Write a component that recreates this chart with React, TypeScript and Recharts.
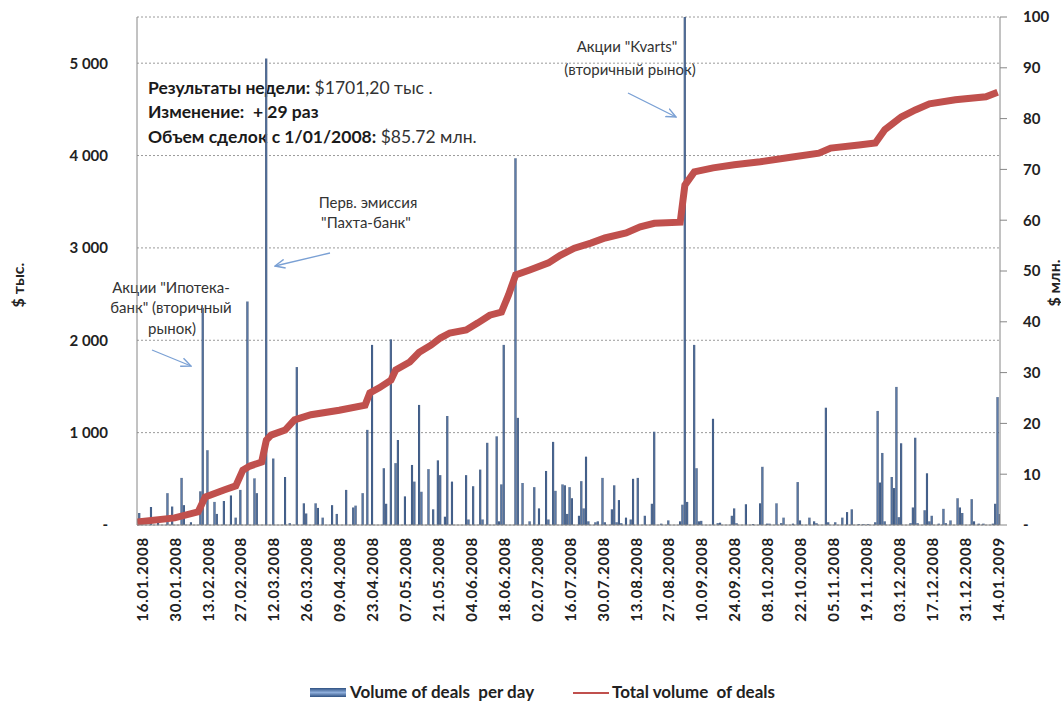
import React from "react";
import { ComposedChart, Bar, Line, XAxis, YAxis, CartesianGrid, Legend } from "recharts";

const FONT = "Lato, 'Noto Sans', sans-serif";

// x axis: days counted from 16.01.2008
const dateLabels = [
  "16.01.2008", "30.01.2008", "13.02.2008", "27.02.2008", "12.03.2008", "26.03.2008",
  "09.04.2008", "23.04.2008", "07.05.2008", "21.05.2008", "04.06.2008", "18.06.2008",
  "02.07.2008", "16.07.2008", "30.07.2008", "13.08.2008", "27.08.2008", "10.09.2008",
  "24.09.2008", "08.10.2008", "22.10.2008", "05.11.2008", "19.11.2008", "03.12.2008",
  "17.12.2008", "31.12.2008", "14.01.2009",
];
const tickDays = dateLabels.map((_, i) => i * 14);

// volume of deals per day, $ thousand
const dealDays = [
  -1, 4, 7, 11, 13, 17, 18, 21, 25, 26, 28, 31, 32, 35, 38, 40, 42, 45, 48, 49,
  53, 56, 61, 63, 66, 69, 70, 74, 75, 77, 81, 83, 87, 90, 91, 94, 96, 98, 103, 104,
  106, 108, 109, 112, 115, 116, 118, 119, 122, 124, 126, 127, 129, 130, 132, 138, 139, 141, 144, 145,
  147, 151, 152, 153, 154, 159, 160, 162, 165, 167, 169, 172, 173, 175, 176, 179, 180, 181, 182, 183,
  186, 187, 188, 189, 190, 193, 194, 196, 197, 200, 201, 202, 203, 204, 206, 208, 209, 211, 214, 217,
  218, 221, 224, 229, 230, 231, 232, 235, 236, 237, 238, 243, 245, 246, 251, 252, 253, 257, 260, 263,
  264, 266, 267, 270, 272, 273, 277, 279, 280, 284, 286, 287, 291, 292, 295, 298, 300, 302, 305, 307,
  309, 312, 313, 314, 315, 316, 319, 320, 321, 322, 323, 327, 328, 329, 330, 333, 334, 335, 336, 339,
  341, 342, 344, 347, 348, 349, 353, 354, 356, 358, 362, 363, 364, 365,
];
const dealVolumes = [
  130, 195, 60, 345, 200, 510, 215, 30, 365, 2350, 810, 250, 120, 260, 320, 80, 380, 2420, 505, 345,
  5050, 720, 520, 20, 1710, 235, 125, 235, 185, 80, 215, 120, 380, 190, 210, 345, 1030, 1950, 615, 230,
  2010, 670, 920, 310, 650, 470, 1300, 360, 605, 170, 700, 540, 90, 1180, 470, 540, 60, 420, 600, 60,
  890, 960, 40, 440, 1950, 3970, 1160, 455, 40, 410, 180, 585, 60, 900, 370, 440, 430, 120, 410, 290,
  100, 475, 180, 740, 40, 30, 40, 510, 30, 170, 430, 30, 270, 20, 80, 60, 500, 510, 100, 230,
  1010, 15, 50, 40, 220, 5500, 250, 1950, 615, 40, 45, 1150, 20, 25, 100, 180, 20, 225, 10, 235,
  630, 15, 15, 235, 20, 80, 15, 465, 50, 80, 40, 20, 1270, 30, 30, 80, 140, 170, 10, 10,
  10, 30, 1235, 460, 780, 40, 520, 400, 1495, 85, 885, 20, 190, 945, 20, 160, 560, 40, 100, 15,
  175, 20, 50, 290, 190, 130, 280, 40, 15, 15, 15, 230, 1385, 120,
];

// total volume of deals, $ million
const totalDays = [
  -2, 14, 24, 27, 35, 40, 43, 46, 51, 53, 55, 61, 65, 72, 84, 95, 97, 101, 106, 108,
  114, 118, 123, 127, 131, 138, 143, 148, 153, 156, 159, 165, 173, 178, 184, 191, 197, 206, 212, 218,
  229, 231, 235, 243, 252, 263, 276, 288, 293, 305, 312, 316, 323, 329, 335, 346, 359, 364,
];
const totalVolumes = [
  0.6, 1.4, 2.6, 5.5, 6.9, 7.7, 10.8, 11.6, 12.4, 16.7, 17.7, 18.7, 20.7, 21.7, 22.6, 23.6, 26, 27, 28.5, 30.5,
  32.1, 34, 35.4, 36.8, 37.8, 38.4, 39.8, 41.3, 41.9, 45.3, 49.2, 50.2, 51.6, 53.1, 54.5, 55.5, 56.5, 57.5, 58.7, 59.4,
  59.6, 66.9, 69.5, 70.3, 70.9, 71.5, 72.4, 73.2, 74.2, 74.8, 75.2, 77.8, 80.3, 81.7, 82.9, 83.7, 84.3, 85.2,
];

const leftTicks = [0, 1000, 2000, 3000, 4000, 5000];
const rightTicks = [0, 10, 20, 30, 40, 50, 60, 70, 80, 90, 100];

type Row = { day: number; vol?: number; total?: number };
const rowMap = new Map<number, Row>();
dealDays.forEach((d, i) => rowMap.set(d, { ...(rowMap.get(d) || { day: d }), vol: dealVolumes[i] }));
totalDays.forEach((d, i) => rowMap.set(d, { ...(rowMap.get(d) || { day: d }), total: totalVolumes[i] }));
const data = Array.from(rowMap.values()).sort((a, b) => a.day - b.day);

const fmtLeft = (v: number) => (v === 0 ? "-" : v.toLocaleString("en-US").replace(",", " "));
const fmtRight = (v: number) => (v === 0 ? "-" : String(v));

const DateTick = (props: any) => {
  const { x, y, payload } = props;
  const label = dateLabels[tickDays.indexOf(payload.value)];
  return (
    <text
      x={x}
      y={y}
      transform={`rotate(-90, ${x}, ${y})`}
      textAnchor="end"
      dominantBaseline="central"
      fontFamily={FONT}
      fontWeight="bold"
      fontSize={15}
      letterSpacing={0.8}
      fill="#222"
    >
      {label}
    </text>
  );
};

const LegendContent = () => (
  <div style={{ position: "relative", width: 1061, height: 30, fontFamily: FONT, fontWeight: "bold", fontSize: 17, color: "#222" }}>
    <div
      style={{
        position: "absolute", left: 310, top: 14, width: 36, height: 9,
        background: "linear-gradient(#2f5182, #8eaedb 50%, #2f5182)",
      }}
    />
    <span style={{ position: "absolute", left: 350, top: 7 }}>Volume of deals&nbsp; per day</span>
    <div style={{ position: "absolute", left: 573, top: 18, width: 36, height: 2, background: "#c0504d" }} />
    <span style={{ position: "absolute", left: 612, top: 7 }}>Total volume&nbsp; of deals</span>
  </div>
);

function Annotations() {
  const note = { fontSize: 15, fill: "#333", textAnchor: "middle" as const };
  const arrow = { stroke: "#7aa0d4", strokeWidth: 1.3, markerEnd: "url(#arrowHead)" };
  return (
    <svg width={1061} height={704} style={{ position: "absolute", left: 0, top: 0 }} fontFamily={FONT}>
      <defs>
        <marker id="arrowHead" viewBox="0 0 10 10" refX="9" refY="5" markerWidth="11" markerHeight="11"
          orient="auto" markerUnits="userSpaceOnUse">
          <path d="M0,1 L9,5 L0,9" fill="none" stroke="#7aa0d4" strokeWidth="1.3" />
        </marker>
      </defs>
      <text x={148} y={94} fontSize={17.5} fill="#1a1a1a">
        <tspan fontWeight="bold">Результаты недели:</tspan>
        <tspan fill="#333"> $1701,20 тыс .</tspan>
      </text>
      <text x={148} y={118} fontSize={17.5} fill="#1a1a1a" fontWeight="bold">
        Изменение:&nbsp; + 29 раз
      </text>
      <text x={148} y={143} fontSize={17.5} fill="#1a1a1a">
        <tspan fontWeight="bold">Объем сделок с 1/01/2008:</tspan>
        <tspan fill="#333"> $85.72 млн.</tspan>
      </text>

      <text x={171} y={293} {...note}>Акции "Ипотека-</text>
      <text x={171} y={313} {...note}>банк" (вторичный</text>
      <text x={172} y={334} {...note}>рынок)</text>
      <line x1={152} y1={350} x2={191} y2={366} {...arrow} />

      <text x={368} y={208} {...note}>Перв. эмиссия</text>
      <text x={366} y={228} {...note}>"Пахта-банк"</text>
      <line x1={330} y1={253} x2={275} y2={266} {...arrow} />

      <text x={627} y={52} {...note}>Акции "Kvarts"</text>
      <text x={630} y={75} {...note}>(вторичный рынок)</text>
      <line x1={628} y1={93} x2={676} y2={117} {...arrow} />

      <text x={17} y={285} transform="rotate(-90, 17, 285)" textAnchor="middle" dominantBaseline="central"
        fontSize={16} fontWeight="bold" fill="#222">$ тыс.</text>
      <text x={1053} y={283} transform="rotate(-90, 1053, 283)" textAnchor="middle" dominantBaseline="central"
        fontSize={16} fontWeight="bold" fill="#222">$ млн.</text>
    </svg>
  );
}

export default function App() {
  const axisTick = { fill: "#222", fontSize: 15, fontWeight: "bold", fontFamily: FONT } as any;
  return (
    <div style={{ position: "absolute", left: 0, top: 0, width: 1061, height: 704, background: "#fff" }}>
      <Annotations />
      <div style={{ position: "absolute", left: 0, top: 0 }}>
        <ComposedChart width={1061} height={704} data={data} margin={{ top: 17, right: 0, bottom: 0, left: 0 }}>
          <defs>
            <linearGradient id="barGrad" x1="0" y1="0" x2="1" y2="0">
              <stop offset="0%" stopColor="#253c62" />
              <stop offset="50%" stopColor="#5f7fad" />
              <stop offset="100%" stopColor="#253c62" />
            </linearGradient>
          </defs>
          <CartesianGrid yAxisId="left" vertical={false} stroke="#9a9a9a" strokeDasharray="2 2" />
          <XAxis
            dataKey="day"
            type="number"
            domain={[-2, 365]}
            ticks={tickDays}
            interval={0}
            height={149}
            tick={<DateTick />}
            tickLine={false}
            tickSize={0}
            tickMargin={12}
            axisLine={{ stroke: "#868686" }}
            allowDataOverflow
          />
          <YAxis
            yAxisId="left"
            width={137}
            domain={[0, 5500]}
            ticks={leftTicks}
            tickFormatter={fmtLeft}
            tick={axisTick}
            tickLine={false}
            tickSize={6}
            tickMargin={23}
            axisLine={{ stroke: "#868686" }}
            allowDataOverflow
          />
          <YAxis
            yAxisId="right"
            orientation="right"
            width={61}
            domain={[0, 100]}
            ticks={rightTicks}
            tickFormatter={fmtRight}
            tick={axisTick}
            tickLine={{ stroke: "#868686" }}
            tickSize={7}
            tickMargin={16}
            axisLine={{ stroke: "#868686" }}
          />
          <Legend verticalAlign="bottom" height={30} content={<LegendContent />} />
          <Bar
            yAxisId="left"
            dataKey="vol"
            name="Volume of deals  per day"
            barSize={3}
            fill="url(#barGrad)"
            isAnimationActive={false}
          />
          <Line
            yAxisId="right"
            dataKey="total"
            name="Total volume  of deals"
            type="linear"
            stroke="#c0504d"
            strokeWidth={7}
            dot={false}
            connectNulls
            isAnimationActive={false}
          />
        </ComposedChart>
      </div>
    </div>
  );
}
